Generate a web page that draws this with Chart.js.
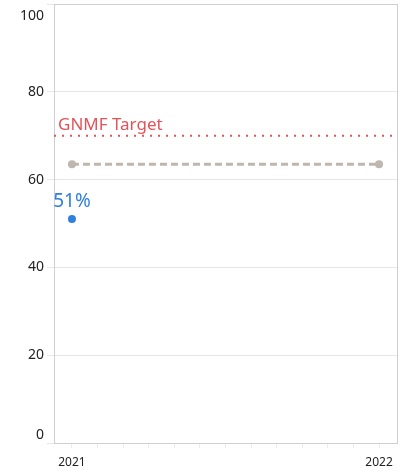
<!DOCTYPE html>
<html>
<head>
<meta charset="utf-8">
<script src="https://cdn.jsdelivr.net/npm/chart.js@4"></script>
<style>
  body { margin: 0; background: #fff; }
</style>
</head>
<body>
<canvas id="chart" width="406" height="474"></canvas>
<script>
const years = [2021, 2022];
const actual = [51, null];
const projected = [63.5, 63.5];
const target = 70;
const targetLabel = "GNMF Target";
const yTicks = [0, 20, 40, 60, 80, 100];

const xMin = 2021 - 0.0585;
const xMax = 2022 + 0.0585;

// month ticks between the two years
const monthTicks = [];
for (let i = 0; i <= 12; i++) monthTicks.push(2021 + i / 12);

const labelPlugin = {
  id: 'labels',
  afterDatasetsDraw(chart) {
    const ctx = chart.ctx;
    const area = chart.chartArea;
    const x = chart.scales.x, y = chart.scales.y;
    ctx.save();
    // y tick labels, ends kept inside the box
    ctx.font = '14px "Noto Sans"';
    ctx.fillStyle = '#222';
    ctx.textAlign = 'right';
    ctx.textBaseline = 'middle';
    yTicks.forEach(v => {
      let py = y.getPixelForValue(v);
      if (py < area.top + 12) py = area.top + 12;
      if (py > area.bottom - 8) py = area.bottom - 8;
      ctx.fillText(String(v), area.left - 10, py);
    });
    // target label
    ctx.font = '17px "Noto Sans"';
    ctx.fillStyle = '#e4525a';
    ctx.textAlign = 'left';
    ctx.textBaseline = 'alphabetic';
    ctx.fillText(targetLabel, area.left + 4, y.getPixelForValue(target) - 6);
    // value label
    ctx.font = '19px "Noto Sans"';
    ctx.fillStyle = '#2f80dc';
    ctx.textAlign = 'center';
    years.forEach((yr, i) => {
      if (actual[i] == null) return;
      ctx.fillText(actual[i] + '%', x.getPixelForValue(yr), y.getPixelForValue(actual[i]) - 12);
    });
    ctx.restore();
  }
};

new Chart(document.getElementById('chart'), {
  type: 'line',
  data: {
    datasets: [
      {
        label: 'Target',
        data: [{ x: xMin, y: target }, { x: xMax, y: target }],
        borderColor: '#e4525a',
        borderWidth: 2,
        borderDash: [2, 6],
        pointRadius: 0
      },
      {
        label: 'Projected',
        data: years.map((yr, i) => ({ x: yr, y: projected[i] })),
        borderColor: '#bfb6ae',
        backgroundColor: '#bfb6ae',
        borderWidth: 3,
        borderDash: [7, 4],
        pointRadius: 4,
        pointBorderWidth: 0
      },
      {
        label: 'Actual',
        data: years.map((yr, i) => ({ x: yr, y: actual[i] })),
        borderColor: '#2f80dc',
        backgroundColor: '#2f80dc',
        pointRadius: 4,
        pointBorderWidth: 0,
        showLine: false
      }
    ]
  },
  options: {
    responsive: false,
    animation: false,
    devicePixelRatio: 1,
    layout: { padding: { top: -2, right: 9, bottom: 0 } },
    plugins: {
      legend: { display: false },
      tooltip: { enabled: false }
    },
    scales: {
      x: {
        type: 'linear',
        min: xMin,
        max: xMax,
        afterBuildTicks: axis => { axis.ticks = monthTicks.map(v => ({ value: v })); },
        afterFit: axis => { axis.height = 31; },
        grid: {
          drawOnChartArea: false,
          tickLength: 5,
          color: '#ececec'
        },
        border: { color: '#cfcfcf' },
        ticks: {
          autoSkip: false,
          maxRotation: 0,
          padding: 7,
          color: '#222',
          font: { family: 'Noto Sans', size: 12 },
          callback: v => Math.abs(v - Math.round(v)) < 1e-6 ? String(Math.round(v)) : ''
        }
      },
      x2: {
        type: 'linear',
        position: 'top',
        min: xMin,
        max: xMax,
        grid: { display: false },
        border: { color: '#cfcfcf' },
        ticks: { display: false },
        afterFit: axis => { axis.height = 0; }
      },
      y: {
        min: 0,
        max: 100,
        afterBuildTicks: axis => { axis.ticks = yTicks.map(v => ({ value: v })); },
        afterFit: axis => { axis.width = 54; },
        grid: { color: '#e6e6e6', tickLength: 7 },
        border: { color: '#cfcfcf' },
        ticks: { display: false }
      },
      y2: {
        position: 'right',
        min: 0,
        max: 100,
        grid: { display: false },
        border: { color: '#cfcfcf' },
        ticks: { display: false },
        afterFit: axis => { axis.width = 0; }
      }
    }
  },
  plugins: [labelPlugin]
});
</script>
</body>
</html>
